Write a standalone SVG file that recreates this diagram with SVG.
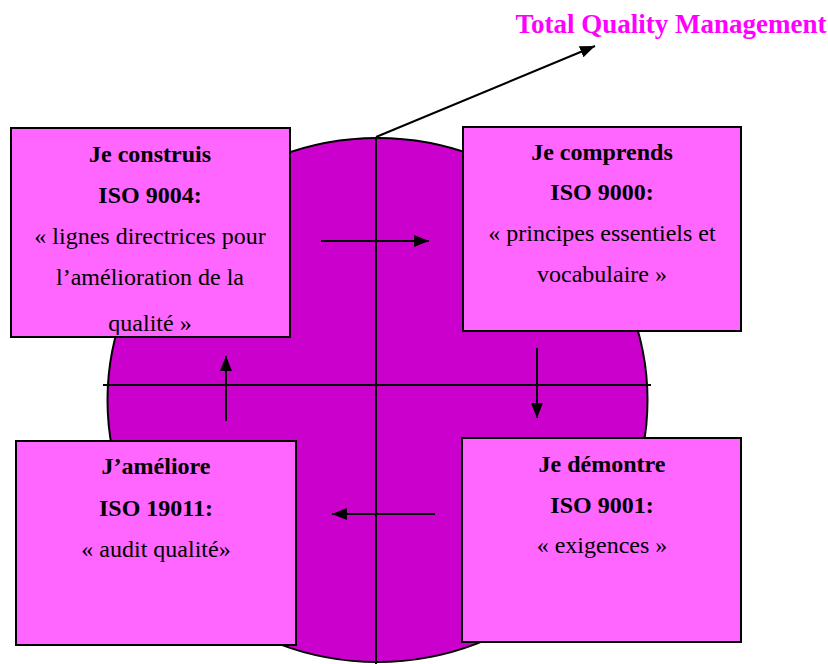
<svg xmlns="http://www.w3.org/2000/svg" width="828" height="664" viewBox="0 0 828 664">
<style>
.box{fill:#FF66FF;stroke:#000;stroke-width:2}
.t{font-family:'Liberation Serif','Times New Roman','DejaVu Serif',serif;font-size:24px;fill:#000;text-anchor:middle}
.b{font-weight:bold}
.ttl{font-family:'Liberation Serif','Times New Roman','DejaVu Serif',serif;font-size:27px;font-weight:bold;fill:#FF00FF;text-anchor:middle}
.ln{stroke:#000;stroke-width:2;fill:none}
</style>
<defs>
<marker id="ah" viewBox="0 0 10 10" refX="10" refY="5" markerWidth="15" markerHeight="12" markerUnits="userSpaceOnUse" orient="auto" preserveAspectRatio="none">
<path d="M0,0 L10,5 L0,10 z" fill="#000"/>
</marker>
<clipPath id="clipTL"><rect x="11" y="128" width="279" height="207"/></clipPath>
</defs>
<rect width="828" height="664" fill="#fff"/>
<g id="circle">
<ellipse cx="377.5" cy="400" rx="270" ry="262" fill="#CC00CC" stroke="#000" stroke-width="2"/>
</g>
<g id="axes">
<line class="ln" x1="376" y1="137" x2="376" y2="664"/>
<line class="ln" x1="103" y1="385" x2="651" y2="385"/>
</g>
<g id="title">
<text class="ttl" x="671" y="33">Total Quality Management</text>
</g>
<g id="connectors">
<line class="ln" x1="376" y1="137" x2="595" y2="46" marker-end="url(#ah)"/>
<line class="ln" x1="321" y1="241" x2="429" y2="241" marker-end="url(#ah)"/>
<line class="ln" x1="537" y1="348" x2="537" y2="418" marker-end="url(#ah)"/>
<line class="ln" x1="435" y1="514" x2="332" y2="514" marker-end="url(#ah)"/>
<line class="ln" x1="226" y1="421" x2="226" y2="356" marker-end="url(#ah)"/>
</g>
<g id="node-construis">
<rect class="box" x="11" y="128" width="279" height="209"/>
<g clip-path="url(#clipTL)">
<text class="t b" x="150" y="162">Je construis</text>
<text class="t b" x="150" y="203">ISO 9004:</text>
<text class="t" x="150" y="244">« lignes directrices pour</text>
<text class="t" x="150" y="285">l’amélioration de la</text>
<text class="t" x="150" y="331">qualité »</text>
</g>
</g>
<g id="node-comprends">
<rect class="box" x="463" y="127" width="278" height="204"/>
<text class="t b" x="602" y="160">Je comprends</text>
<text class="t b" x="602" y="200">ISO 9000:</text>
<text class="t" x="602" y="241">« principes essentiels et</text>
<text class="t" x="602" y="282">vocabulaire »</text>
</g>
<g id="node-ameliore">
<rect class="box" x="16" y="441" width="280" height="204"/>
<text class="t b" x="156" y="474">J’améliore</text>
<text class="t b" x="156" y="516">ISO 19011:</text>
<text class="t" x="156" y="557">« audit qualité»</text>
</g>
<g id="node-demontre">
<rect class="box" x="462" y="438" width="279" height="204"/>
<text class="t b" x="602" y="472">Je démontre</text>
<text class="t b" x="602" y="513">ISO 9001:</text>
<text class="t" x="602" y="553">« exigences »</text>
</g>
</svg>
